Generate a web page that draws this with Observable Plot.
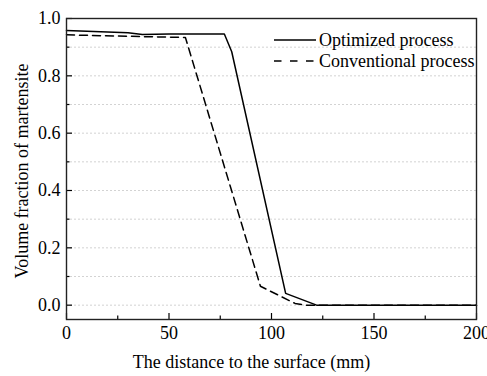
<!DOCTYPE html>
<html>
<head>
<meta charset="utf-8">
<script src="https://cdn.jsdelivr.net/npm/d3@7"></script>
<script src="https://cdn.jsdelivr.net/npm/@observablehq/plot@0.6"></script>
<style>
  html, body { margin: 0; padding: 0; background: white; overflow: hidden; }
  #wrap { position: relative; width: 487px; height: 376px; font-family: "Liberation Serif", "Times New Roman", serif; }
  #legend { position: absolute; left: 0; top: 0; pointer-events: none; }
</style>
</head>
<body>
<div id="wrap"></div>
<script>
// Data
const optX = [0, 30, 37, 50, 77, 80.6, 106.9, 122, 200];
const optY = [0.958, 0.950, 0.944, 0.946, 0.946, 0.884, 0.041, 0, 0];
const convX = [0, 36, 58, 94.6, 111.5, 117, 200];
const convY = [0.943, 0.937, 0.934, 0.066, 0.006, 0, 0];
const seriesNames = ["Optimized process", "Conventional process"];
const xMajor = [0, 50, 100, 150, 200];
const xMinor = [25, 75, 125, 175];
const yMajor = [0, 0.2, 0.4, 0.6, 0.8, 1.0];
const yMinor = [0.1, 0.3, 0.5, 0.7, 0.9];
const yGrid = [0, 0.1, 0.2, 0.3, 0.4, 0.5, 0.6, 0.7, 0.8, 0.9];
const xLabel = "The distance to the surface (mm)";
const yLabel = "Volume fraction of martensite";

const opt = optX.map((x, i) => ({x, y: optY[i]}));
const conv = convX.map((x, i) => ({x, y: convY[i]}));

const yMin = -0.05, yMax = 1.0;
const majorLen = 0.021, minorLen = 0.012;   // inward tick length in y units
const xMajLen = 6 / 2.055, xMinLen = 3.5 / 2.055; // inward tick length in x units

const font = '"Liberation Serif", "Times New Roman", serif';
const fs = 18;

const chart = Plot.plot({
  width: 487,
  height: 376,
  marginLeft: 66,
  marginRight: 11,
  marginTop: 18,
  marginBottom: 57,
  x: {domain: [0, 200]},
  y: {domain: [yMin, yMax]},
  style: {fontFamily: font, fontSize: fs + "px", background: "white", color: "black", overflow: "visible"},
  marks: [
    Plot.ruleY(yGrid, {y: d => d, stroke: "#c8c8c8", strokeDasharray: "2,2", strokeWidth: 0.8}),
    Plot.axisX(xMajor, {tickSize: 0, tickPadding: 7, tickFormat: d => String(d), label: null, fontSize: fs}),
    Plot.axisY(yMajor, {tickSize: 0, tickPadding: 6, tickFormat: d => d.toFixed(1), label: null, fontSize: fs}),
    Plot.text([xLabel], {text: d => d, frameAnchor: "bottom", dy: 43, dx: -20, lineAnchor: "middle", fontSize: fs}),
    Plot.ruleX(xMajor, {x: d => d, y1: yMin, y2: yMin + majorLen, stroke: "black", strokeWidth: 1.2}),
    Plot.ruleX(xMinor, {x: d => d, y1: yMin, y2: yMin + minorLen, stroke: "black", strokeWidth: 1.2}),
    Plot.ruleY(yMajor, {y: d => d, x1: 0, x2: xMajLen, stroke: "black", strokeWidth: 1.2}),
    Plot.ruleY(yMinor, {y: d => d, x1: 0, x2: xMinLen, stroke: "black", strokeWidth: 1.2}),
    Plot.line(conv, {x: "x", y: "y", stroke: "black", strokeWidth: 1.5, strokeDasharray: "8,5"}),
    Plot.line(opt, {x: "x", y: "y", stroke: "black", strokeWidth: 1.5}),
    Plot.frame({stroke: "#222", strokeWidth: 1.4})
  ]
});
document.getElementById("wrap").appendChild(chart);

// Legend (inside plot, top right) and rotated y label
const ns = "http://www.w3.org/2000/svg";
const leg = document.createElementNS(ns, "svg");
leg.setAttribute("id", "legend");
leg.setAttribute("width", 487);
leg.setAttribute("height", 376);
const styles = [{dash: null}, {dash: "7.5,8.5"}];
seriesNames.forEach((name, i) => {
  const cy = 40 + i * 21;
  const ln = document.createElementNS(ns, "line");
  ln.setAttribute("x1", 274); ln.setAttribute("x2", 316);
  ln.setAttribute("y1", cy); ln.setAttribute("y2", cy);
  ln.setAttribute("stroke", "black"); ln.setAttribute("stroke-width", 1.5);
  if (styles[i].dash) ln.setAttribute("stroke-dasharray", styles[i].dash);
  leg.appendChild(ln);
  const t = document.createElementNS(ns, "text");
  t.setAttribute("x", 319); t.setAttribute("y", cy + 6);
  t.setAttribute("font-family", font);
  t.setAttribute("font-size", fs);
  t.textContent = name;
  leg.appendChild(t);
});
const yl = document.createElementNS(ns, "text");
yl.setAttribute("transform", "translate(22,171) rotate(-90)");
yl.setAttribute("text-anchor", "middle");
yl.setAttribute("dy", "0.35em");
yl.setAttribute("font-family", font);
yl.setAttribute("font-size", fs);
yl.textContent = yLabel;
leg.appendChild(yl);
document.getElementById("wrap").appendChild(leg);
</script>
</body>
</html>
